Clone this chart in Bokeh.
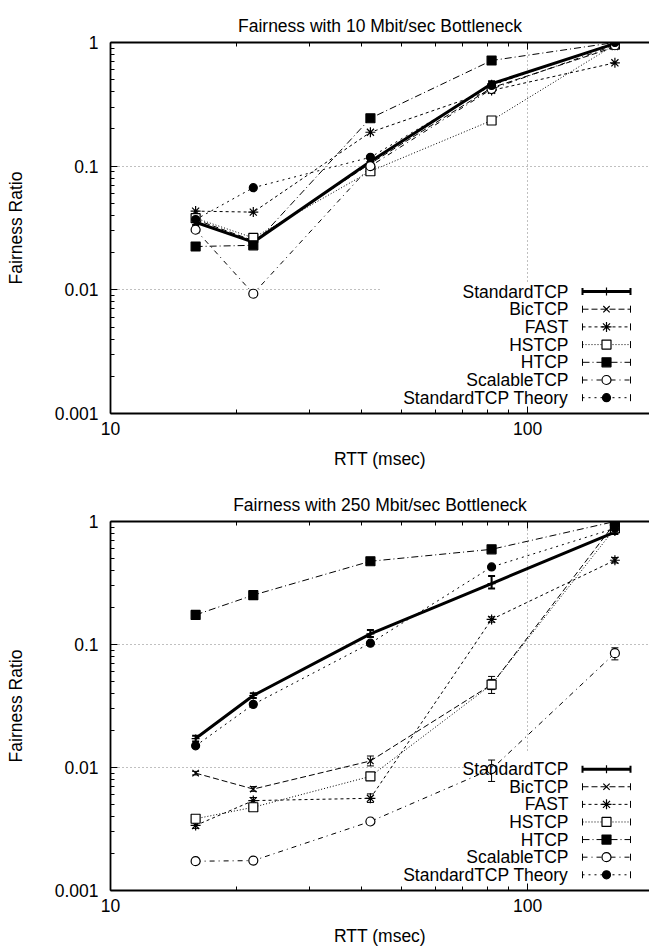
import numpy as np
from bokeh.plotting import figure
from bokeh.layouts import column
from bokeh.models import (FixedTicker, LogAxis, BoxAnnotation, Whisker, TeeHead,
                          ColumnDataSource)
from bokeh.embed import file_html
from bokeh.resources import INLINE
from bokeh.core.properties import value

# ---------------- data ----------------
RTT = [16, 22, 42, 82, 162]
NAMES = ["StandardTCP", "BicTCP", "FAST", "HSTCP", "HTCP", "ScalableTCP", "StandardTCP Theory"]
X_TICKS = [10, 100]
Y_TICKS = [0.001, 0.01, 0.1, 1]
Y_TICK_LABELS = ["0.001", "0.01", "0.1", "1"]

# 10 Mbit/sec bottleneck
B10_STANDARD = [0.0352, 0.0243, 0.109, 0.464, 0.98]
B10_STANDARD_LO = [0.0335, 0.0232, 0.104, 0.445, 0.96]
B10_STANDARD_HI = [0.0370, 0.0256, 0.115, 0.485, 1.0]
B10_BIC = [0.037, 0.025, 0.105, 0.43, 0.92]
B10_FAST = [0.0433, 0.0425, 0.188, 0.41, 0.685]
B10_HSTCP = [0.038, 0.0263, 0.091, 0.234, 0.96]
B10_HSTCP_LO = [0.036, 0.025, 0.087, 0.222, 0.94]
B10_HSTCP_HI = [0.040, 0.0276, 0.095, 0.246, 0.98]
B10_HTCP = [0.0224, 0.0229, 0.244, 0.715, 1.0]
B10_SCALABLE = [0.0306, 0.0093, 0.100, 0.42, 0.95]
B10_SCALABLE_LO = [0.0292, 0.0088, 0.096, 0.40, 0.93]
B10_SCALABLE_HI = [0.0320, 0.0098, 0.104, 0.44, 0.97]
B10_THEORY = [0.037, 0.067, 0.118, 0.45, 1.0]

# 250 Mbit/sec bottleneck
B250_STANDARD = [0.0172, 0.0385, 0.122, 0.313, 0.82]
B250_STANDARD_LO = [0.0163, 0.0368, 0.115, 0.285, 0.79]
B250_STANDARD_HI = [0.0181, 0.0402, 0.131, 0.360, 0.85]
B250_BIC = [0.0090, 0.00668, 0.0113, 0.0472, 0.97]
B250_BIC_LO = [0.0087, 0.0064, 0.0103, 0.043, 0.95]
B250_BIC_HI = [0.0093, 0.0070, 0.0124, 0.052, 0.99]
B250_FAST = [0.00338, 0.00538, 0.00562, 0.160, 0.484]
B250_FAST_LO = [0.0032, 0.0051, 0.0052, 0.152, 0.46]
B250_FAST_HI = [0.0036, 0.0057, 0.0061, 0.168, 0.51]
B250_HSTCP = [0.00383, 0.00475, 0.00847, 0.0472, 0.88]
B250_HSTCP_LO = [0.0036, 0.0045, 0.0079, 0.040, 0.85]
B250_HSTCP_HI = [0.0041, 0.0050, 0.0091, 0.055, 0.91]
B250_HTCP = [0.174, 0.252, 0.475, 0.594, 1.0]
B250_SCALABLE = [0.00173, 0.00175, 0.00364, 0.0097, 0.085]
B250_SCALABLE_LO = [0.00165, 0.00167, 0.00347, 0.0077, 0.075]
B250_SCALABLE_HI = [0.00181, 0.00183, 0.00381, 0.0115, 0.094]
B250_THEORY = [0.0150, 0.0326, 0.1026, 0.427, 0.88]

# ---------------- styles ----------------
FONT = "Liberation Sans"
FS = "17.5px"
STYLE = {
    "StandardTCP": dict(dash="solid", width=3, marker="cross", fill="black", size=8),
    "BicTCP": dict(dash="6 3", width=1, marker="x", fill="black", size=9),
    "FAST": dict(dash="3 3", width=1, marker="asterisk", fill="black", size=10),
    "HSTCP": dict(dash="1 2", width=1, marker="square", fill="white", size=9),
    "HTCP": dict(dash="7 3 1 3", width=1, marker="square", fill="black", size=9),
    "ScalableTCP": dict(dash="5 4 1 4", width=1, marker="circle", fill="white", size=9),
    "StandardTCP Theory": dict(dash="2 4", width=1, marker="circle", fill="black", size=8),
}

X_START, X_END = 10, 196.1
Y_START, Y_END = 0.001, 1
FRAME_L, FRAME_W, FRAME_H = 110, 539, 371


def px_x(px):
    a, b = np.log10(X_START), np.log10(X_END)
    return float(10 ** (a + (px - FRAME_L) / FRAME_W * (b - a)))


def px_y(py):
    a, b = np.log10(Y_START), np.log10(Y_END)
    return float(10 ** (b - py / FRAME_H * (b - a)))


def make_fig(title, height, bottom_border, series, errors, box_left_px, box_top_px):
    p = figure(width=649, height=height, x_axis_type="log", y_axis_type="log",
               x_range=(X_START, X_END), y_range=(Y_START, Y_END),
               output_backend="svg", toolbar_location=None,
               min_border_left=FRAME_L, min_border_right=0, min_border_top=42,
               min_border_bottom=bottom_border)
    p.outline_line_color = None
    p.background_fill_color = "white"
    p.title.text = title
    p.title.align = "center"
    p.title.vertical_align = "top"
    p.title.text_font = FONT
    p.title.text_font_size = FS
    p.title.text_font_style = "normal"
    p.title.text_color = "black"
    p.title.standoff = 10

    xt = FixedTicker(ticks=X_TICKS, minor_ticks=[20, 30, 40, 50, 60, 70, 80, 90])
    ymin = [m * d for d in (0.001, 0.01, 0.1) for m in range(2, 10)]
    yt = FixedTicker(ticks=Y_TICKS, minor_ticks=ymin)

    xa = p.xaxis[0]
    xa.ticker = xt
    xa.major_label_overrides = {10: "10", 100: "100"}
    xa.axis_label = "RTT (msec)"
    xa.major_label_standoff = 8
    xa.axis_label_standoff = 11
    ya = p.yaxis[0]
    ya.ticker = yt
    ya.major_label_overrides = {t: l for t, l in zip(Y_TICKS, Y_TICK_LABELS)}
    ya.axis_label = "Fairness Ratio"
    ya.major_label_standoff = 12
    ya.axis_label_standoff = 26

    top = LogAxis(ticker=xt)
    p.add_layout(top, "above")
    for ax in (xa, ya, top):
        ax.major_tick_in = 7
        ax.major_tick_out = 0
        ax.minor_tick_in = 4
        ax.minor_tick_out = 0
        ax.axis_line_width = 1.8
        ax.axis_line_color = "black"
        ax.major_tick_line_color = "black"
        ax.minor_tick_line_color = "black"
        ax.major_label_text_font = FONT
        ax.major_label_text_font_size = FS
        ax.major_label_text_color = "black"
        ax.axis_label_text_font = FONT
        ax.axis_label_text_font_size = FS
        ax.axis_label_text_font_style = "normal"
        ax.axis_label_text_color = "black"
    top.major_label_text_font_size = "2px"
    top.major_label_text_alpha = 0
    top.major_label_standoff = 0

    for g in (p.xgrid[0], p.ygrid[0]):
        g.grid_line_color = "#808080"
        g.grid_line_dash = "1 3"
        g.grid_line_width = 1

    # white key area that hides grid lines (under the data)
    box = BoxAnnotation(left=px_x(box_left_px), right=X_END, bottom=Y_START, top=px_y(box_top_px),
                        fill_color="white", fill_alpha=1, line_color=None, level="underlay")
    p.add_layout(box)

    for name, vals in zip(NAMES, series):
        st = STYLE[name]
        p.line(RTT, vals, line_color="black", line_width=st["width"], line_dash=st["dash"])
    for name, err in errors.items():
        lo, hi = err
        src = ColumnDataSource(dict(base=RTT, lower=lo, upper=hi))
        w = 2 if name == "StandardTCP" else 1
        p.add_layout(Whisker(source=src, base="base", lower="lower", upper="upper",
                             dimension="height", line_color="black", line_width=w,
                             upper_head=TeeHead(size=7, line_width=w, line_color="black"),
                             lower_head=TeeHead(size=7, line_width=w, line_color="black")))
    for name, vals in zip(NAMES, series):
        st = STYLE[name]
        p.scatter(RTT, vals, marker=st["marker"], size=st["size"], line_color="black",
                  fill_color=st["fill"], line_width=1.2)

    # key: label right-aligned, then sample
    for i, name in enumerate(NAMES):
        st = STYLE[name]
        row = 249 + 17.7 * i
        yv = px_y(row)
        p.text(x=[px_x(568)], y=[yv], text=[name], text_align="right", text_baseline="middle",
               text_font=value(FONT), text_font_size=FS, text_color="black")
        p.line([px_x(582), px_x(630)], [yv, yv], line_color="black",
               line_width=st["width"], line_dash=st["dash"])
        cw = 2 if name == "StandardTCP" else 1
        p.segment(x0=[px_x(582), px_x(630)], y0=[px_y(row - 3.5)] * 2,
                  x1=[px_x(582), px_x(630)], y1=[px_y(row + 3.5)] * 2,
                  line_color="black", line_width=cw)
        p.scatter([px_x(606)], [yv], marker=st["marker"], size=st["size"], line_color="black",
                  fill_color=st["fill"], line_width=1.2)
    return p


p1 = make_fig("Fairness with 10 Mbit/sec Bottleneck", 479, 66,
              [B10_STANDARD, B10_BIC, B10_FAST, B10_HSTCP, B10_HTCP, B10_SCALABLE, B10_THEORY],
              {"StandardTCP": (B10_STANDARD_LO, B10_STANDARD_HI),
               "HSTCP": (B10_HSTCP_LO, B10_HSTCP_HI),
               "ScalableTCP": (B10_SCALABLE_LO, B10_SCALABLE_HI)},
              380, 240)
p2 = make_fig("Fairness with 250 Mbit/sec Bottleneck", 469, 56,
              [B250_STANDARD, B250_BIC, B250_FAST, B250_HSTCP, B250_HTCP, B250_SCALABLE, B250_THEORY],
              {"StandardTCP": (B250_STANDARD_LO, B250_STANDARD_HI),
               "BicTCP": (B250_BIC_LO, B250_BIC_HI),
               "FAST": (B250_FAST_LO, B250_FAST_HI),
               "HSTCP": (B250_HSTCP_LO, B250_HSTCP_HI),
               "ScalableTCP": (B250_SCALABLE_LO, B250_SCALABLE_HI)},
              466, 231)

layout = column(p1, p2, spacing=0)
open("out.html", "w").write(file_html(layout, INLINE))
